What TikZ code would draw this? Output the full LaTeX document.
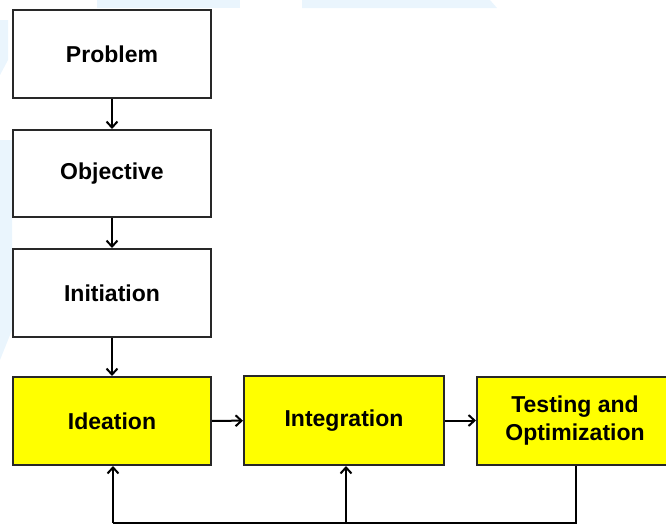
\documentclass[tikz,border=0pt]{standalone}
\usepackage{fontspec}
\setmainfont{Liberation Sans}
\usepackage{tikz}
\usetikzlibrary{arrows.meta}
\definecolor{boxyellow}{RGB}{255,255,0}
\definecolor{wmblue}{RGB}{234,245,253}
\definecolor{edgegray}{RGB}{40,40,40}

\begin{document}
\begin{tikzpicture}[x=1pt,y=-1pt,
	stage/.style={draw=edgegray,line width=2pt,rectangle,minimum width=198pt,minimum height=88pt,
		font=\fontsize{23}{28}\selectfont\bfseries,align=center,inner sep=0pt},
	hot/.style={stage,fill=boxyellow},
	link/.style={line width=2pt,-{Straight Barb[length=6pt,width=11pt,line width=2pt]}},
	loop/.style={line width=2.8pt}]
	\useasboundingbox (0,0) rectangle (666,525);
	% faint watermark behind the chart
	\fill[wmblue] (97,0) rectangle (240,8);
	\fill[wmblue] (302,0) -- (490,0) -- (497,8) -- (302,8) -- cycle;
	\fill[wmblue] (0,140) -- (12,140) -- (12,330) -- (0,360) -- cycle;
	\fill[wmblue] (0,20) -- (8,20) -- (8,60) -- (0,75) -- cycle;
	% stages
	\node[stage] (problem) at (112,54) {Problem};
	\node[stage,minimum height=87pt] (objective) at (112,173.5) {Objective};
	\node[stage] (initiation) at (112,293) {Initiation};
	\node[hot] (ideation) at (112,421) {Ideation};
	\node[hot,minimum width=200pt,minimum height=89pt] (integration) at (344,420.5) {Integration};
	\node[hot,minimum width=196pt] (testing) at (575,420.5) {Testing and\\Optimization};
	\draw[link] (problem) -- (objective);
	\draw[link] (objective) -- (initiation);
	\draw[link] (initiation) -- (ideation);
	\draw[link] (ideation) -- (integration);
	\draw[link] (integration) -- (testing);
	% feedback
	\coordinate (down) at (576,523);
	\coordinate (back) at (113,523);
	\coordinate (mid) at (346,523);
	\draw[loop] (testing.south -| down) -- (down) -- (back);
	\draw[link,line width=2.6pt] (back) -- (back |- ideation.south);
	\draw[link,line width=2.6pt] (mid) -- (mid |- integration.south);
\end{tikzpicture}
\end{document}
